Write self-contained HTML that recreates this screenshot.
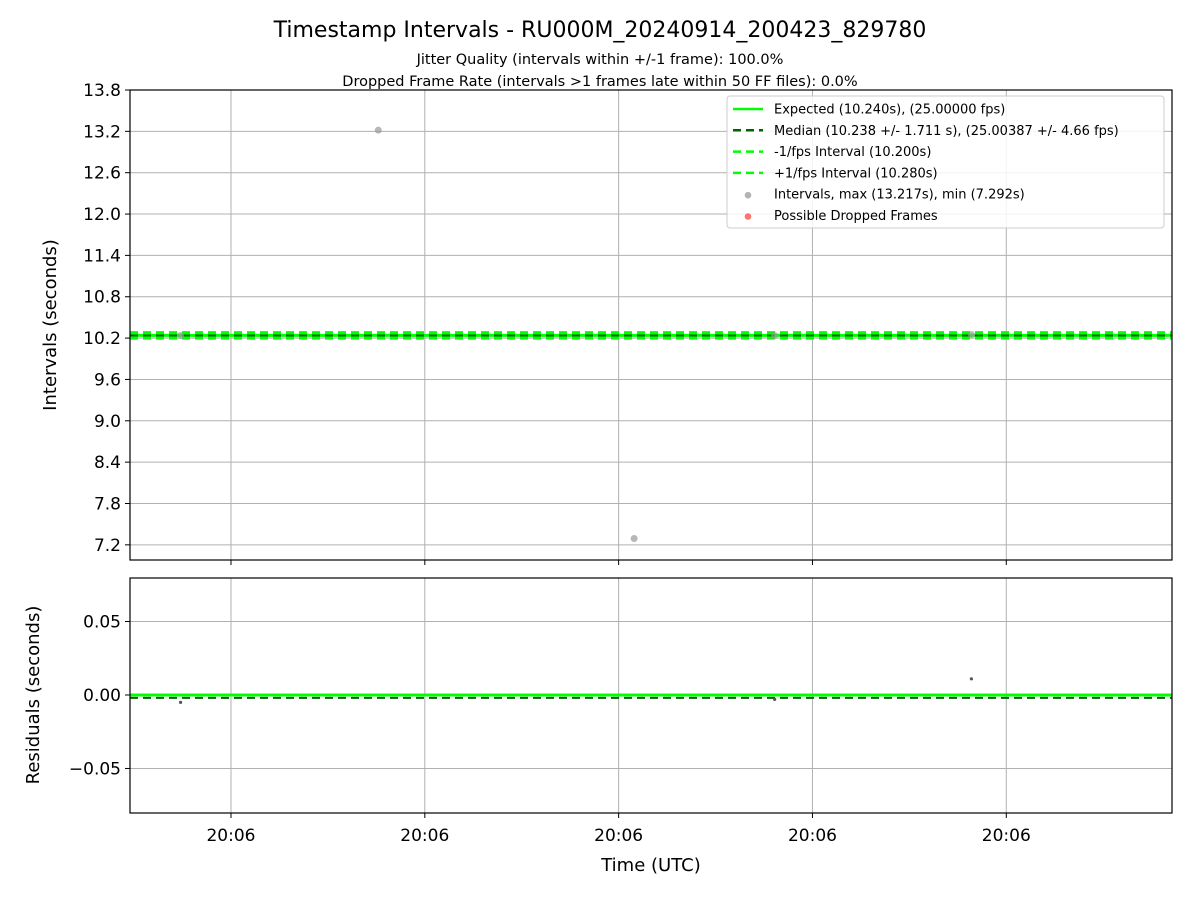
<!DOCTYPE html>
<html><head><meta charset="utf-8"><style>
body{margin:0;background:#fff;}
svg text{font-family:"DejaVu Sans","Liberation Sans",sans-serif;fill:#000;}
</style></head><body>
<svg id="c" width="1200" height="900" xmlns="http://www.w3.org/2000/svg">
<rect width="1200" height="900" fill="#fff"/>
<text x="600" y="37" font-size="22" text-anchor="middle">Timestamp Intervals - RU000M_20240914_200423_829780</text>
<text x="600" y="64" font-size="14.5" text-anchor="middle">Jitter Quality (intervals within +/-1 frame): 100.0%</text>
<text x="600" y="86" font-size="14.5" text-anchor="middle">Dropped Frame Rate (intervals &gt;1 frames late within 50 FF files): 0.0%</text>
<g id="topPanel"></g><g id="botPanel"></g>
<text x="651" y="871" font-size="18" text-anchor="middle">Time (UTC)</text>
<text transform="translate(56,325) rotate(-90)" font-size="18" text-anchor="middle">Intervals (seconds)</text>
<text transform="translate(39,695) rotate(-90)" font-size="18" text-anchor="middle">Residuals (seconds)</text>
</svg>
<script>
const times=[0.48,2.52,5.16,6.61,8.64];
const intervals=[10.235,13.217,7.292,10.237,10.251];
const expected=10.240, median=10.238, lowI=10.200, highI=10.280;
const xTicks=[1,3,5,7,9];
const xTickLabels=["20:06","20:06","20:06","20:06","20:06"];
const yTicksTop=[7.2,7.8,8.4,9.0,9.6,10.2,10.8,11.4,12.0,12.6,13.2,13.8];
const yTicksBot=[-0.05,0.00,0.05];
const yTickLabelsBot=["\u22120.05","0.00","0.05"];
const NS="http://www.w3.org/2000/svg";
const L=130,R=1172;
const X=t=>L+(t-(-0.042))/(10.71+0.042)*(R-L);
const Yt=v=>90+(13.8-v)/(13.8-6.98)*(560-90);
const Yb=v=>578+(0.0796-v)/(0.0796+0.0803)*(813-578);
function el(p,tag,a){const e=document.createElementNS(NS,tag);for(const k in a)e.setAttribute(k,a[k]);p.appendChild(e);return e;}
function panel(g,t0,b0,Y,ticks,labels,name){
  const cp=el(g,'clipPath',{id:'cp'+name});el(cp,'rect',{x:L,y:t0,width:R-L,height:b0-t0});
  xTicks.forEach(t=>{const l=el(g,'line',{x1:X(t),x2:X(t),y1:t0,y2:b0,stroke:'#b0b0b0','stroke-width':1});
    
    
    el(g,'line',{x1:X(t),x2:X(t),y1:b0,y2:b0+5,stroke:'#000'});});
  ticks.forEach((v,i)=>{const l=el(g,'line',{x1:L,x2:R,y1:Y(v),y2:Y(v),stroke:'#b0b0b0','stroke-width':1});
    
    
    el(g,'line',{x1:L-5,x2:L,y1:Y(v),y2:Y(v),stroke:'#000'});
    const tx=el(g,'text',{x:L-9,y:Y(v)+6,'font-size':17,'text-anchor':'end'});tx.textContent=labels[i];
    
    });
  return 'url(#cp'+name+')';
}
const topG=document.getElementById('topPanel'),botG=document.getElementById('botPanel');
const cpT=panel(topG,90,560,Yt,yTicksTop,yTicksTop.map(v=>v.toFixed(1)),'t');
const lg=el(topG,'g',{'clip-path':cpT});
[[lowI,'#00ff00','8,5',3,'minus-fps-line'],[highI,'#00ff00','8,5',3,'plus-fps-line'],[expected,'#00ff00','',3,'expected-line'],[median,'#006400','8,5',2,'median-line']].forEach(a=>{
  const l=el(lg,'line',{x1:L,x2:R,y1:Yt(a[0]),y2:Yt(a[0]),stroke:a[1],'stroke-width':a[3],'stroke-dasharray':a[2]});
  
  });
times.forEach((t,i)=>{const c=el(lg,'circle',{cx:X(t),cy:Yt(intervals[i]),r:3.5,fill:'#999','fill-opacity':0.7});
  
  });
el(topG,'rect',{x:L,y:90,width:R-L,height:470,fill:'none',stroke:'#000','stroke-width':1.2});
const cpB=panel(botG,578,813,Yb,yTicksBot,yTickLabelsBot,'b');
const lb=el(botG,'g',{'clip-path':cpB});
[[0,'#00ff00','',3,'residual-expected-line'],[median-expected,'#006400','8,5',2,'residual-median-line']].forEach(a=>{
  const l=el(lb,'line',{x1:L,x2:R,y1:Yb(a[0]),y2:Yb(a[0]),stroke:a[1],'stroke-width':a[3],'stroke-dasharray':a[2]});
  
  });
times.forEach((t,i)=>{const c=el(lb,'circle',{cx:X(t),cy:Yb(intervals[i]-expected),r:1.6,fill:'#555'});
  
  });
el(botG,'rect',{x:L,y:578,width:R-L,height:235,fill:'none',stroke:'#000','stroke-width':1.2});
xTicks.forEach((t,i)=>{const tx=el(botG,'text',{x:X(t),y:841,'font-size':17,'text-anchor':'middle'});tx.textContent=xTickLabels[i];
  
  });
const lgd=el(topG,'g',{});


el(lgd,'rect',{x:727,y:96,width:437,height:132,rx:3,fill:'#fff','fill-opacity':0.85,stroke:'#ccc'});
const items=[['line','#00ff00','','Expected (10.240s), (25.00000 fps)'],['line','#006400','8,5','Median (10.238 +/- 1.711 s), (25.00387 +/- 4.66 fps)'],['line','#00ff00','8,5','-1/fps Interval (10.200s)'],['line','#00ff00','8,5','+1/fps Interval (10.280s)'],['dot','#999','','Intervals, max (13.217s), min (7.292s)'],['dot','#ff4444','','Possible Dropped Frames']];
items.forEach((it,i)=>{const y=109+i*21.3;
  if(it[0]=='line')el(lgd,'line',{x1:733,x2:763,y1:y,y2:y,stroke:it[1],'stroke-width':2.5,'stroke-dasharray':it[2]});
  else el(lgd,'circle',{cx:748,cy:y+1,r:3.3,fill:it[1],'fill-opacity':0.75});
  const tx=el(lgd,'text',{x:774,y:y+4.5,'font-size':13});tx.textContent=it[3];
  
  });
</script>
</body></html>
